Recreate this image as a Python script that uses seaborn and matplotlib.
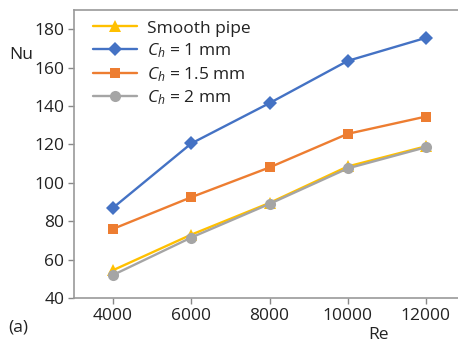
import matplotlib
matplotlib.use("Agg")
import matplotlib.pyplot as plt
import seaborn as sns
import pandas as pd

re_values = [4000, 6000, 8000, 10000, 12000]
smooth_pipe = [54.5, 73, 89.5, 108.5, 119]
ch_1mm = [87, 120.5, 141.5, 163.5, 175.5]
ch_15mm = [76, 92.5, 108, 125.5, 134.5]
ch_2mm = [52, 71.5, 89, 107.5, 118.5]
series_labels = ["Smooth pipe", "$C_h$ = 1 mm", "$C_h$ = 1.5 mm", "$C_h$ = 2 mm"]
y_ticks = [40, 60, 80, 100, 120, 140, 160, 180]
x_ticks = [4000, 6000, 8000, 10000, 12000]

sns.set_theme(style="white")
plt.rcParams['font.family'] = ['Open Sans', 'DejaVu Sans']
plt.rcParams['mathtext.fontset'] = 'custom'
plt.rcParams['mathtext.it'] = 'Open Sans:italic'
plt.rcParams['mathtext.rm'] = 'Open Sans'

df = pd.DataFrame({
    "Re": re_values * 4,
    "Nu": smooth_pipe + ch_1mm + ch_15mm + ch_2mm,
    "series": sum([[s] * len(re_values) for s in series_labels], []),
})

colors = ["#FFC000", "#4472C4", "#ED7D31", "#A5A5A5"]
markers = ["^", "D", "s", "o"]
msizes = [8.5, 7.5, 7.5, 8]

FS = 12.5
fig = plt.figure(figsize=(4.58, 3.44), dpi=100)
ax = fig.add_axes([74/458, (344-298)/344, (465-74)/458, (298-10)/344])

for lab, c, m, ms in zip(series_labels, colors, markers, msizes):
    sub = df[df["series"] == lab]
    sns.lineplot(data=sub, x="Re", y="Nu", ax=ax, color=c, marker=m,
                 markersize=ms, markeredgewidth=0, linewidth=1.7, label=lab)

ax.set_xlim(3000, 13000)
ax.set_ylim(40, 190)
ax.set_xticks(x_ticks)
ax.set_yticks(y_ticks)
ax.tick_params(axis="both", direction="out", length=4, width=1, color="#888888",
               labelsize=FS, labelcolor="#222222", bottom=True, left=True, pad=3)
for s in ["left", "bottom", "top"]:
    ax.spines[s].set_color("#999999")
    ax.spines[s].set_linewidth(1.2)
ax.spines["right"].set_visible(False)
ax.set_xlabel("")
ax.set_ylabel("")

fig.text(21/458, 1 - 55/344, "Nu", fontsize=FS, color="#222222", ha="center", va="center")
fig.text(378/458, 1 - 335/344, "Re", fontsize=FS, color="#222222", ha="center", va="center")
fig.text(18/458, 1 - 327/344, "(a)", fontsize=FS, color="#222222", ha="center", va="center")

leg = ax.legend(loc="upper left", frameon=False, fontsize=FS, handlelength=2.5,
                handletextpad=0.58, labelspacing=0.28, borderaxespad=0.0,
                borderpad=0.2, bbox_to_anchor=(0.04, 0.976))
for t in leg.get_texts():
    t.set_color("#222222")

fig.savefig("out.png", dpi=100)
